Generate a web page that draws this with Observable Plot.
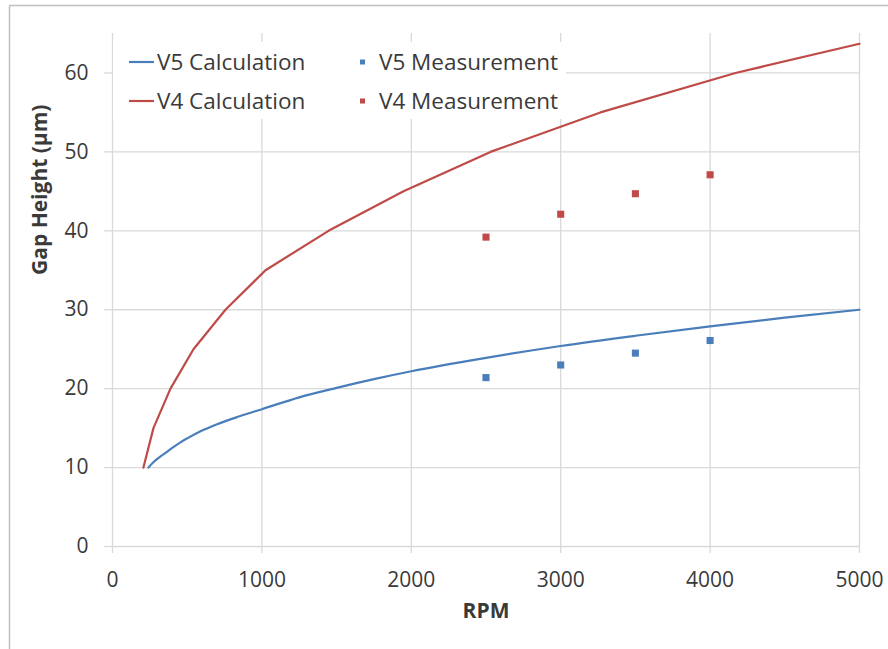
<!DOCTYPE html>
<html>
<head>
<meta charset="utf-8">
<script src="https://cdn.jsdelivr.net/npm/d3@7"></script>
<script src="https://cdn.jsdelivr.net/npm/@observablehq/plot@0.6"></script>
<style>
  html, body { margin: 0; padding: 0; background: #fff; }
  #chart svg { display: block; }
</style>
</head>
<body>
<div id="chart"></div>
<script>
// ---- Data ----
const rpmTicks = [0, 1000, 2000, 3000, 4000, 5000];
const gapTicks = [0, 10, 20, 30, 40, 50, 60];

const v5CalcRpm = [241, 270, 300, 350, 400, 455, 500, 589, 700, 850, 1000, 1250, 1500, 1750, 2000, 2500, 3000, 3500, 4000, 4500, 5000];
const v5CalcGap = [10, 10.6, 11.1, 11.8, 12.5, 13.2, 13.7, 14.6, 15.5, 16.5, 17.4, 18.9, 20.1, 21.2, 22.2, 23.9, 25.4, 26.7, 27.9, 29.0, 30.0];

const v4CalcRpm = [207, 274, 388, 542, 756, 1024, 1446, 1948, 2530, 3266, 4170, 5000];
const v4CalcGap = [10, 15, 20, 25, 30, 35, 40, 45, 50, 55, 60, 63.7];

const measRpm = [2500, 3000, 3500, 4000];
const v5MeasGap = [21.4, 23.0, 24.5, 26.1];
const v4MeasGap = [39.2, 42.1, 44.7, 47.1];

const seriesNames = ["V5 Calculation", "V4 Calculation", "V5 Measurement", "V4 Measurement"];
const seriesColors = ["#4a7ebb", "#be4b48", "#4a7ebb", "#be4b48"];

const xTitle = "RPM";
const yTitle = "Gap Height (µm)";

// ---- Tables ----
const v5Calc = v5CalcRpm.map((r, i) => ({rpm: r, gap: v5CalcGap[i]}));
const v4Calc = v4CalcRpm.map((r, i) => ({rpm: r, gap: v4CalcGap[i]}));
const v5Meas = measRpm.map((r, i) => ({rpm: r, gap: v5MeasGap[i]}));
const v4Meas = measRpm.map((r, i) => ({rpm: r, gap: v4MeasGap[i]}));

const gridColor = "#d9d9d9";
const textColor = "#3a3a3a";

const chart = Plot.plot({
  width: 888,
  height: 649,
  marginLeft: 112,
  marginRight: 29,
  marginTop: 33,
  marginBottom: 103,
  style: {fontFamily: "'Open Sans', sans-serif", fontSize: "21px", color: textColor, background: "#fff"},
  x: {domain: [0, 5000]},
  y: {domain: [0, 65]},
  marks: [
    Plot.gridX(rpmTicks, {stroke: gridColor, strokeOpacity: 1, strokeWidth: 1.3}),
    Plot.gridY(gapTicks, {stroke: gridColor, strokeOpacity: 1, strokeWidth: 1.3}),
    Plot.axisX(rpmTicks, {tickSize: 7, tickPadding: 19, stroke: gridColor, strokeWidth: 1.3, fill: textColor, label: null, tickFormat: d => String(d)}),
    Plot.axisY(gapTicks, {tickSize: 8, tickPadding: 16, stroke: gridColor, strokeWidth: 1.3, fill: textColor, label: null, tickFormat: d => String(d)}),
    Plot.line(v5Calc, {x: "rpm", y: "gap", stroke: seriesColors[0], strokeWidth: 2.2, curve: "monotone-x"}),
    Plot.line(v4Calc, {x: "rpm", y: "gap", stroke: seriesColors[1], strokeWidth: 2.2, curve: "linear"}),
    Plot.dot(v5Meas, {x: "rpm", y: "gap", symbol: "square", r: 4, fill: seriesColors[2], stroke: "none"}),
    Plot.dot(v4Meas, {x: "rpm", y: "gap", symbol: "square", r: 4, fill: seriesColors[3], stroke: "none"}),
    Plot.text([xTitle], {frameAnchor: "bottom", dy: 71, fontWeight: "bold", fill: textColor}),
    Plot.text([yTitle], {frameAnchor: "left", rotate: -90, dx: -72, dy: -15, fontWeight: "bold", fill: textColor})
  ]
});

document.getElementById("chart").appendChild(chart);

// ---- Legend and outer border, drawn into the same SVG ----
const svg = d3.select(chart);
svg.append("line").attr("x1", 9.5).attr("x2", 888).attr("y1", 5.5).attr("y2", 5.5)
  .attr("stroke", "#bfbfbf").attr("stroke-width", 1.5);
svg.append("line").attr("x1", 9.5).attr("x2", 9.5).attr("y1", 5.5).attr("y2", 649)
  .attr("stroke", "#bfbfbf").attr("stroke-width", 1.5);

const lg = svg.append("g")
  .attr("font-family", "'Open Sans', sans-serif")
  .attr("font-size", 22.5)
  .attr("text-anchor", "start")
  .attr("fill", textColor);
lg.append("rect").attr("x", 113).attr("y", 42).attr("width", 453).attr("height", 77).attr("fill", "#fff");
const legendCols = [129, 360];
const legendRows = [62, 101];
seriesNames.forEach((name, i) => {
  const col = Math.floor(i / 2), row = i % 2;
  const x0 = legendCols[col], y0 = legendRows[row];
  if (col === 0) {
    lg.append("line").attr("x1", x0).attr("x2", x0 + 25).attr("y1", y0).attr("y2", y0)
      .attr("stroke", seriesColors[i]).attr("stroke-width", 2.2);
    lg.append("text").attr("x", x0 + 28).attr("y", y0).attr("dy", "0.35em").attr("text-anchor", "start").text(name);
  } else {
    lg.append("rect").attr("x", x0).attr("y", y0 - 2.5).attr("width", 5).attr("height", 5)
      .attr("fill", seriesColors[i]);
    lg.append("text").attr("x", x0 + 19).attr("y", y0).attr("dy", "0.35em").attr("text-anchor", "start").text(name);
  }
});
</script>
</body>
</html>
